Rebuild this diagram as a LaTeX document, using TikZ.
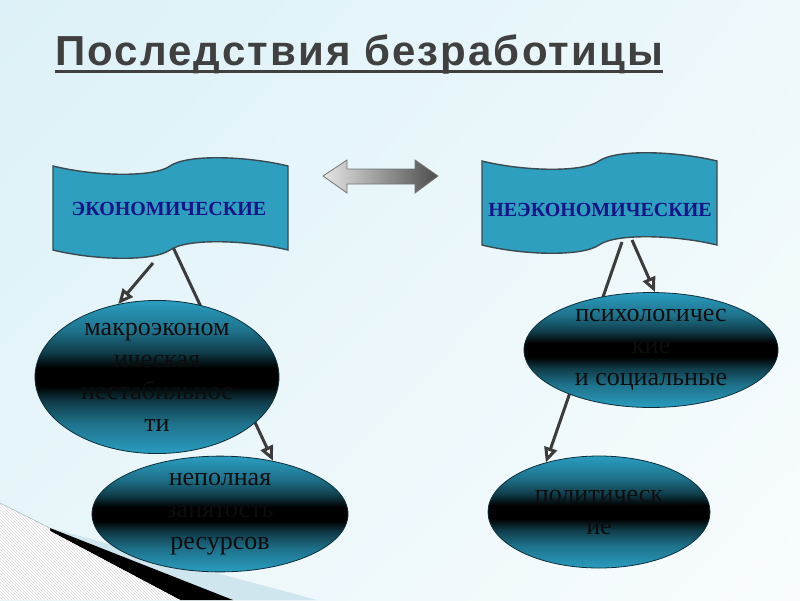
\documentclass[tikz,border=0pt]{standalone}
\usepackage{fontspec}
\setmainfont{Liberation Serif}
\newfontfamily\titlefont[LetterSpace=5]{Liberation Sans}
\usetikzlibrary{arrows.meta,shapes.geometric,patterns,shadings}

\definecolor{bannerfill}{HTML}{2E9FBE}
\definecolor{bannerline}{HTML}{3A4A50}
\definecolor{bannertext}{HTML}{141488}
\definecolor{ellteal}{HTML}{2A9DC0}
\definecolor{titlegray}{HTML}{404040}
\definecolor{arrowgray}{HTML}{3C3C3C}
\definecolor{bgA}{HTML}{DCF1F7}
\definecolor{bgB}{HTML}{EDF8FB}
\definecolor{bgC}{HTML}{E9F6FA}
\definecolor{bgD}{HTML}{F8FCFE}
\definecolor{curlblue}{HTML}{CFE6EE}
\colorlet{tealA}{ellteal!72!black}
\colorlet{tealB}{ellteal!38!black}

\pgfdeclareverticalshading{tealband}{100bp}{color(0bp)=(ellteal); color(25bp)=(ellteal); color(35bp)=(tealA); color(42bp)=(tealB); color(47bp)=(black); color(53bp)=(black); color(58bp)=(tealB); color(65bp)=(tealA); color(75bp)=(ellteal); color(100bp)=(ellteal)}

\pgfdeclarelayer{bg}
\pgfdeclarelayer{mid}
\pgfsetlayers{bg,mid,main}

\tikzset{
  bannerbox/.style={fill=bannerfill, draw=bannerline, line width=1.4pt},
  bannerpic/.pic={
    \path[bannerbox] (0,0) .. controls (40,10) and (100,12) .. (117,0)
      .. controls (134,-12) and (194,-10) .. (235,0) -- (235,84)
      .. controls (194,74) and (134,72) .. (117,84)
      .. controls (100,96) and (40,94) .. (0,84) -- cycle;
  },
  bannerlabel/.style={inner sep=0, text=bannertext, font=\bfseries\fontsize{20}{22}\selectfont},
  ell/.style={ellipse, inner sep=0, shading=tealband, draw=black!70!ellteal, line width=0.8pt,
    align=center, text=black!95, font=\fontsize{26}{32}\selectfont},
  conn/.style={draw=arrowgray, line width=3pt, -{Triangle[length=15pt, width=13pt, fill=white]}},
}

\begin{document}
\begin{tikzpicture}[x=1pt, y=-1pt]
\useasboundingbox (0,0) rectangle (800,600);

\begin{pgfonlayer}{bg}
  \shade[upper left=bgA, upper right=bgB, lower left=bgC, lower right=bgD] (0,0) rectangle (800,600);
  % page curl decoration bottom left
  \fill[curlblue] (50,528) -- (317,600) -- (233,600) -- cycle;
  \fill[black] (50,528) -- (233,600) -- (180,600) -- (50,531) -- cycle;
  \fill[white] (0,503) -- (50,528) -- (50,531) -- (180,600) -- (0,600) -- cycle;
  \path[pattern=north west lines, pattern color=black!15] (0,503) -- (50,528) -- (50,531) -- (180,600) -- (0,600) -- cycle;
  \draw[curlblue!80!black, line width=0.6pt] (0,503) -- (50,528);
\end{pgfonlayer}

% title
\node[anchor=base west, inner sep=0, text=titlegray, font=\titlefont\bfseries\fontsize{42}{50}\selectfont] (title) at (55,65) {Последствия безработицы};
\draw[titlegray, line width=3pt] ([yshift=-6pt]title.base west) -- ([yshift=-6pt]title.base east);

% banners
\pic at (53,166) {bannerpic};
\pic at (482,161) {bannerpic};
\node[bannerlabel] (econ) at (169,209) {ЭКОНОМИЧЕСКИЕ};
\node[bannerlabel] (nonecon) at (600,210) {НЕЭКОНОМИЧЕСКИЕ};

% double arrow
\draw[draw=black!55, line width=0.8pt, left color=black!10, right color=black!70]
  (323,176) -- (347,160) -- (347,169) -- (415,169) -- (415,160) -- (438,176)
  -- (415,193) -- (415,184) -- (347,184) -- (347,193) -- cycle;

% ellipses
\node[ell, minimum width=244pt, minimum height=130pt] (e1) at (157,377) {макроэконом\\ическая\\нестабильнос\\ти};
\node[ell, minimum width=256pt, minimum height=112pt] (e2) at (220,514) {неполная\\занятость\\ресурсов};
\node[ell, minimum width=254pt, minimum height=114pt] (e3) at (651,350) {психологичес\\кие\\и социальные};
\node[ell, minimum width=222pt, minimum height=112pt] (e4) at (599,512) {политическ\\ие};

% connectors
\coordinate (ea1) at (153,263);
\coordinate (ea2) at (172,245);
\coordinate (na1) at (632,240);
\coordinate (na2) at (622,242);
\begin{pgfonlayer}{mid}
  \draw[conn] (ea1) -- (e1.118);
  \draw[conn] (ea2) -- (e2.45);
  \draw[conn] (na1) -- (e3.86);
  \draw[conn] (na2) -- (e4.137);
\end{pgfonlayer}
\end{tikzpicture}
\end{document}
